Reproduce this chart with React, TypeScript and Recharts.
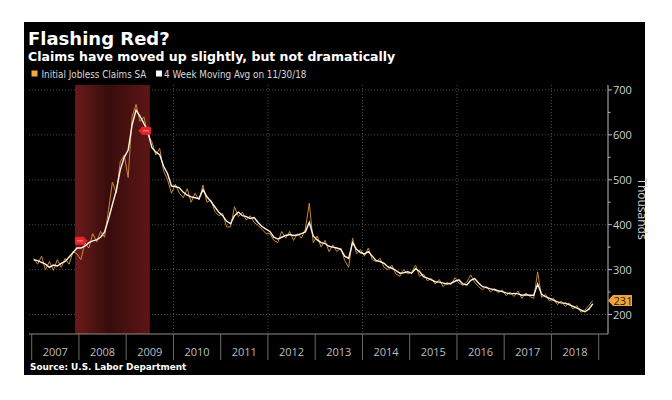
import React from 'react'
import {
  LineChart,
  Line,
  XAxis,
  YAxis,
  CartesianGrid,
  ReferenceArea,
  ReferenceDot,
} from 'recharts'

// monthly readings, Jan 2007 .. Nov 2018 (thousands)
const startYear = 2007

const initialClaims = [
  325, 312, 330, 300, 318, 298, 322, 305, 325, 312, 340, 335, // 2007
  322, 360, 348, 380, 362, 385, 372, 432, 495, 470, 540, 555, // 2008
  505, 640, 668, 630, 640, 600, 585, 555, 570, 520, 500, 470, // 2009
  490, 470, 460, 480, 450, 470, 455, 488, 450, 455, 430, 420, // 2010
  425, 395, 395, 440, 418, 428, 410, 420, 405, 398, 390, 380, // 2011
  380, 365, 360, 385, 370, 385, 365, 380, 370, 390, 448, 360, // 2012
  375, 350, 365, 340, 355, 340, 348, 320, 305, 370, 335, 345, // 2013
  330, 348, 322, 318, 325, 305, 300, 310, 290, 285, 300, 290, // 2014
  295, 310, 285, 290, 275, 280, 268, 278, 262, 272, 266, 282, // 2015
  270, 265, 272, 288, 272, 262, 255, 263, 250, 258, 248, 255, // 2016
  242, 250, 240, 252, 236, 248, 240, 236, 295, 238, 245, 230, // 2017
  236, 222, 230, 218, 226, 212, 220, 205, 210, 220, 231, // 2018
]

const movingAvg = [
  322, 320, 316, 312, 305, 310, 308, 314, 318, 328, 338, 348, // 2007
  348, 352, 360, 364, 366, 372, 384, 412, 445, 477, 522, 550, // 2008
  566, 622, 655, 642, 625, 608, 572, 562, 556, 530, 514, 486, // 2009
  485, 482, 472, 466, 462, 460, 458, 478, 462, 452, 440, 428, // 2010
  420, 408, 402, 420, 428, 420, 418, 414, 416, 405, 396, 390, // 2011
  385, 372, 368, 372, 376, 378, 376, 377, 380, 384, 405, 375, // 2012
  366, 360, 358, 352, 350, 348, 345, 330, 325, 360, 345, 338, // 2013
  335, 340, 330, 320, 318, 314, 306, 303, 298, 292, 293, 295, // 2014
  292, 302, 296, 284, 281, 277, 273, 272, 270, 268, 270, 274, // 2015
  277, 268, 266, 276, 280, 270, 262, 260, 257, 255, 253, 251, // 2016
  248, 246, 247, 246, 243, 244, 243, 243, 268, 245, 240, 236, // 2017
  232, 228, 226, 225, 222, 218, 214, 210, 206, 212, 224, // 2018
]

const yearTicks = [2007, 2008, 2009, 2010, 2011, 2012, 2013, 2014, 2015, 2016, 2017, 2018, 2019]
const gridYears = [2008, 2010, 2012, 2014, 2016, 2018]
const valueTicks = [200, 250, 300, 350, 400, 450, 500, 550, 600, 650, 700]
const gridValues = [200, 300, 400, 500, 600, 700]

const recession = { start: 2007.92, end: 2009.5 }
const markers = [
  { t: 2008.02, v: 364, dir: 'right' },
  { t: 2009.42, v: 609, dir: 'left' },
]
const lastValue = 231

const X_MIN = 2006.943
const X_MAX = 2019.197
const Y_MIN = 156.6
const Y_MAX = 711
const PLOT_W = 579
const yearPx = PLOT_W / (X_MAX - X_MIN)

const chartData = movingAvg.map((avg, i) => ({
  t: startYear + (i + 0.5) / 12,
  claims: initialClaims[i],
  avg,
}))

const labelFont = "'Open Sans', 'Liberation Sans', sans-serif"
const boldFont = "'DejaVu Sans', Verdana, sans-serif"
const legendFont = "'Liberation Sans Narrow', 'DejaVu Sans Condensed', sans-serif"

function YearTick({ x, y, payload }: any) {
  const yr = payload.value
  return (
    <g>
      <line x1={x} x2={x} y1={y} y2={y + 26} stroke="#6a6a6a" strokeWidth={1} />
      {yr < 2019 && (
        <text
          x={x + yearPx / 2}
          y={y + 22}
          textAnchor="middle"
          fill="#bdbdbd"
          fontSize={11}
          fontFamily={labelFont}
        >
          {yr}
        </text>
      )}
    </g>
  )
}

function ValueTick({ x, y, payload }: any) {
  const major = payload.value % 100 === 0
  return (
    <g>
      <line x1={x} x2={x + (major ? 4 : 2.5)} y1={y} y2={y} stroke="#bbbbbb" />
      {major && (
        <text x={x + 5} y={y + 4} fill="#cfcfcf" fontSize={11} fontFamily={labelFont}>
          {payload.value}
        </text>
      )}
    </g>
  )
}

function LastTag({ cx, cy }: any) {
  return (
    <g>
      <polygon
        points={`${cx},${cy} ${cx + 5},${cy - 5.5} ${cx + 24},${cy - 5.5} ${cx + 24},${cy + 5.5} ${cx + 5},${cy + 5.5}`}
        fill="#f2a23c"
      />
      <text x={cx + 15} y={cy + 4} textAnchor="middle" fill="#1a1a1a" fontSize={11} fontFamily={labelFont}>
        {lastValue}
      </text>
    </g>
  )
}

function EventMarker({ cx, cy, dir }: any) {
  const tip = dir === 'right' ? 3 : -3
  const edge = cx + (tip > 0 ? 5 : -5)
  return (
    <g>
      <rect x={cx - 5} y={cy - 4} width={10} height={8} rx={1.5} fill="#e5232a" />
      <polygon points={`${edge},${cy - 2.5} ${edge + tip},${cy} ${edge},${cy + 2.5}`} fill="#e5232a" />
      <line x1={cx - 3} x2={cx + 3} y1={cy} y2={cy} stroke="#f6b0b0" strokeWidth={0.8} />
    </g>
  )
}

export default function App() {
  return (
    <div style={{ position: 'absolute', left: 0, top: 0, width: 672, height: 400 }}>
      <div
        style={{ position: 'absolute', left: 24, top: 22, width: 621, height: 353, background: '#000' }}
      >
        <LineChart
          width={621}
          height={353}
          data={chartData}
          margin={{ top: 63, right: 0, left: 5, bottom: 0 }}
        >
          <defs>
            <linearGradient id="rec" x1="0" y1="0" x2="1" y2="0">
              <stop offset="0%" stopColor="#6a1a1a" />
              <stop offset="45%" stopColor="#380c0c" />
              <stop offset="100%" stopColor="#5e1515" />
            </linearGradient>
          </defs>
          <CartesianGrid
            stroke="#4a4a4a"
            strokeDasharray="1 2"
            horizontalValues={gridValues}
            verticalValues={gridYears}
          />
          <ReferenceArea
            x1={recession.start}
            x2={recession.end}
            fill="url(#rec)"
            fillOpacity={1}
            strokeOpacity={0}
            ifOverflow="visible"
          />
          <XAxis
            dataKey="t"
            type="number"
            domain={[X_MIN, X_MAX]}
            ticks={yearTicks}
            interval={0}
            allowDataOverflow
            height={41}
            tickSize={0}
            tickMargin={0}
            tickLine={false}
            axisLine={{ stroke: '#8c8c8c' }}
            tick={<YearTick />}
          />
          <YAxis
            orientation="right"
            type="number"
            domain={[Y_MIN, Y_MAX]}
            ticks={valueTicks}
            interval={0}
            allowDataOverflow
            width={37}
            tickSize={0}
            tickMargin={0}
            tickLine={false}
            axisLine={{ stroke: '#bbbbbb' }}
            tick={<ValueTick />}
          />
          <Line
            type="linear"
            dataKey="claims"
            stroke="#c8882f"
            strokeWidth={1}
            dot={false}
            isAnimationActive={false}
          />
          <Line
            type="linear"
            dataKey="avg"
            stroke="#fbf3e4"
            strokeWidth={1.4}
            dot={false}
            isAnimationActive={false}
          />
          {markers.map((m) => (
            <ReferenceDot
              key={m.t}
              x={m.t}
              y={m.v}
              r={0}
              ifOverflow="visible"
              shape={(p: any) => <EventMarker {...p} dir={m.dir} />}
            />
          ))}
          <ReferenceDot x={X_MAX} y={lastValue} r={0} ifOverflow="visible" shape={<LastTag />} />
        </LineChart>
      </div>
      <svg
        width={672}
        height={400}
        style={{ position: 'absolute', left: 0, top: 0, pointerEvents: 'none' }}
      >
        <text x={28} y={44.5} fill="#fff" fontSize={18} fontWeight="bold" fontFamily={boldFont}>
          Flashing Red?
        </text>
        <text x={28} y={60.5} fill="#fff" fontSize={12.5} fontWeight="bold" fontFamily={boldFont}>
          Claims have moved up slightly, but not dramatically
        </text>
        <rect x={31.5} y={70.5} width={6} height={6} fill="#f5a742" />
        <text x={41.5} y={77.5} fill="#d8d8d8" fontSize={9.8} fontFamily={legendFont}>
          Initial Jobless Claims SA
        </text>
        <rect x={156} y={70.5} width={6} height={6} fill="#ffffff" />
        <text x={164} y={77.5} fill="#d8d8d8" fontSize={9.8} fontFamily={legendFont}>
          4 Week Moving Avg on 11/30/18
        </text>
        <text
          x={641}
          y={209}
          fill="#d0d0d0"
          fontSize={12}
          fontFamily={labelFont}
          textAnchor="middle"
          transform="rotate(90 641 209)"
          dominantBaseline="middle"
        >
          Thousands
        </text>
        <text x={30} y={370} fill="#fff" fontSize={8.9} fontWeight="bold" fontFamily={boldFont}>
          Source: U.S. Labor Department
        </text>
      </svg>
    </div>
  )
}
